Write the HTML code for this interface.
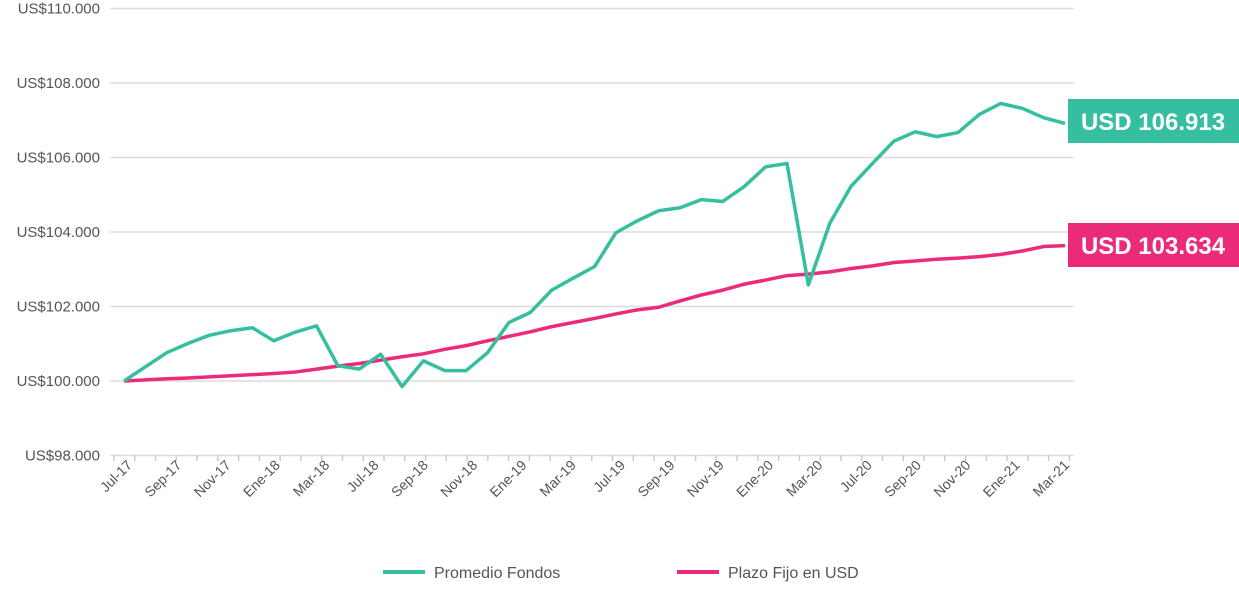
<!DOCTYPE html>
<html><head><meta charset="utf-8"><style>
body{margin:0;background:#fff;font-family:"Liberation Sans",sans-serif}
svg text{font-family:"Liberation Sans",sans-serif}
</style></head><body>
<svg id="chart" width="1239" height="585" viewBox="0 0 1239 585" xmlns="http://www.w3.org/2000/svg"></svg>
<script>
const yTicks=[98,100,102,104,106,108,110];
const xLabels=["Jul-17","Sep-17","Nov-17","Ene-18","Mar-18","Jul-18","Sep-18","Nov-18","Ene-19","Mar-19","Jul-19","Sep-19","Nov-19","Ene-20","Mar-20","Jul-20","Sep-20","Nov-20","Ene-21","Mar-21"];
const fondos=[100.0,100.38,100.76,101.01,101.23,101.35,101.43,101.08,101.31,101.48,100.41,100.32,100.72,99.85,100.54,100.28,100.28,100.76,101.57,101.84,102.44,102.76,103.07,103.98,104.30,104.57,104.65,104.87,104.82,105.22,105.75,105.84,102.58,104.23,105.23,105.84,106.44,106.69,106.56,106.67,107.16,107.45,107.32,107.07,106.913];
const plazo=[100.0,100.03,100.06,100.08,100.11,100.14,100.17,100.20,100.24,100.32,100.40,100.47,100.56,100.65,100.73,100.85,100.95,101.08,101.20,101.32,101.46,101.57,101.68,101.80,101.91,101.98,102.15,102.31,102.44,102.60,102.71,102.83,102.87,102.93,103.02,103.09,103.18,103.22,103.27,103.30,103.34,103.40,103.49,103.61,103.634];
const svg=document.getElementById('chart');
const NS='http://www.w3.org/2000/svg';
function mk(t,a,p){const e=document.createElementNS(NS,t);for(const k in a)e.setAttribute(k,a[k]);(p||svg).appendChild(e);return e;}
const y=v=>381-(v-100)*37.25;
const x=i=>124+i*(1065-124)/(fondos.length-1);
yTicks.forEach(v=>{
 const g=mk('line',{x1:110,x2:1074,y1:y(v),y2:y(v),stroke:'#dcdcdc','stroke-width':1.5});
 
 
 const t=mk('text',{x:100,y:y(v)+5,'text-anchor':'end','font-size':15,fill:'#555'});
 t.textContent='US$'+v+'.000';
 
 
});
for(let k=0;k<=46;k++){
 const tx=114+k*20.77;
 const tk=mk('line',{x1:tx,x2:tx,y1:455,y2:461,stroke:'#ccc','stroke-width':1.5});
 
 
}
xLabels.forEach((l,i)=>{
 const lx=133+i*(1070-133)/(xLabels.length-1);
 const t=mk('text',{x:lx,y:466,'text-anchor':'end','font-size':14,fill:'#555',transform:`rotate(-45 ${lx} 466)`});
 t.textContent=l;
 
 
});
function line(arr,col,name){
 const p=mk('polyline',{points:arr.map((v,i)=>x(i)+','+y(v)).join(' '),fill:'none',stroke:col,'stroke-width':3.5,'stroke-linejoin':'round'});
 
 
}
line(plazo,'#ec2a7a','plazo-fijo-line');
line(fondos,'#35bfa0','promedio-fondos-line');
function badge(yy,col,txt,name){
 const r=mk('rect',{x:1068,y:yy,width:171,height:44,fill:col});
 
 
 const t=mk('text',{x:1153,y:yy+31,'text-anchor':'middle','font-size':24,'font-weight':'bold',fill:'#fff'});
 t.textContent=txt;
 
 
}
badge(99,'#35bfa0','USD 106.913','fondos-end-label');
badge(223,'#ec2a7a','USD 103.634','plazo-end-label');
function leg(x0,col,txt,name){
 const l=mk('line',{x1:x0,x2:x0+42,y1:572,y2:572,stroke:col,'stroke-width':4});
 
 
 const t=mk('text',{x:x0+51,y:578,'font-size':16,fill:'#555'});
 t.textContent=txt;
 
 
}
leg(383,'#35bfa0','Promedio Fondos','legend-promedio-fondos');
leg(677,'#ec2a7a','Plazo Fijo en USD','legend-plazo-fijo');
</script>
</body></html>
